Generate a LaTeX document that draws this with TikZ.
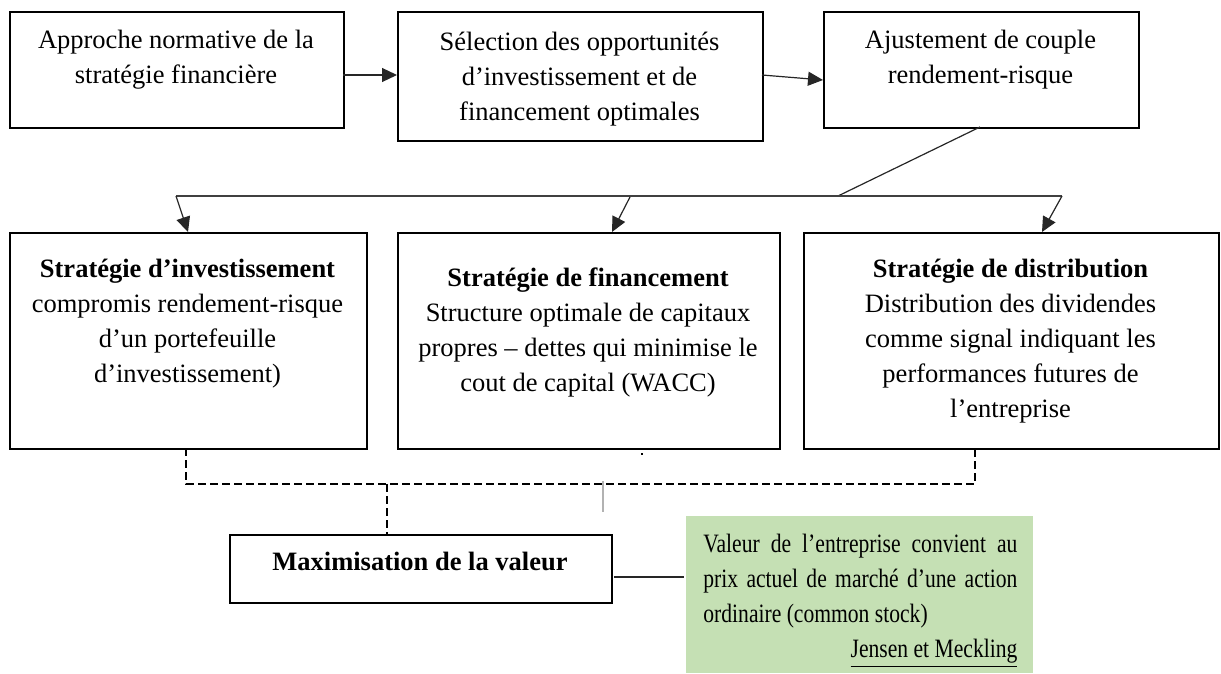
\documentclass[tikz,border=0pt]{standalone}
\usepackage{fontspec}
\setmainfont{Liberation Serif}
\newfontfamily\condfont{Liberation Serif}[FakeStretch=0.815]
\usetikzlibrary{arrows.meta}
\definecolor{greenbg}{HTML}{C5E0B4}
\tikzset{
  box/.style={draw=black, line width=1pt, inner sep=0pt, anchor=north west},
  txt/.style={inner sep=0pt, anchor=north, align=center, font=\fontsize{13.25}{17.5}\selectfont},
  conn/.style={draw=black!85, line width=0.6pt},
  arr/.style={conn, -{Triangle[length=7.5pt,width=7pt]}},
  dashline/.style={draw=black, line width=0.7pt, dash pattern=on 4pt off 2pt}
}
\begin{document}
\begin{tikzpicture}[x=0.5pt,y=-0.5pt]
\useasboundingbox (0,0) rectangle (1221,674);
% top row boxes
\node[box, minimum width=167pt, minimum height=58pt] (b1) at (9,11) {};
\node[box, minimum width=182.5pt, minimum height=64.5pt] (b2) at (397,11) {};
\node[box, minimum width=157.5pt, minimum height=58pt] (b3) at (823,11) {};
% lower row boxes
\node[box, minimum width=178.5pt, minimum height=108pt] (b4) at (9,232) {};
\node[box, minimum width=191pt, minimum height=108pt] (b5) at (397,232) {};
\node[box, minimum width=207.5pt, minimum height=108pt] (b6) at (803,232) {};
% bottom
\node[box, minimum width=191pt, minimum height=34pt] (bm) at (229,534) {};
\node[fill=greenbg, inner sep=0pt, anchor=north west, minimum width=173.5pt, minimum height=78.5pt] (bg) at (686,516) {};

% texts
\node[txt] (t1) at (176,24) {\strut Approche normative de la\\stratégie financière};
\node[txt] (t2) at (579.5,26) {\strut Sélection des opportunités\\d’investissement et de\\financement optimales};
\node[txt] (t3) at (980.5,24) {\strut Ajustement de couple\\rendement-risque};
\node[txt] (t4) at (187.5,253) {\strut\textbf{Stratégie d’investissement}\\compromis rendement-risque\\d’un portefeuille\\d’investissement)};
\node[txt] (t5) at (588,262) {\strut\textbf{Stratégie de financement}\\Structure optimale de capitaux\\propres – dettes qui minimise le\\cout de capital (WACC)};
\node[txt] (t6) at (1010.5,253) {\strut\textbf{Stratégie de distribution}\\Distribution des dividendes\\comme signal indiquant les\\performances futures de\\l’entreprise};
\node[txt] (tm) at (420,546) {\strut\textbf{Maximisation de la valeur}};
\node[txt, anchor=north west, align=left, font=\condfont\fontsize{13.25}{17.5}\selectfont] (tg) at (703,528) {\strut\makebox[157pt][s]{Valeur de l’entreprise convient au}\\\makebox[157pt][s]{prix actuel de marché d’une action}\\ordinaire (common stock)\\\makebox[157pt][r]{\underline{Jensen et Meckling}}};

% connector coordinates
\coordinate (a1s) at (343,75);
\coordinate (a1e) at (397,75);
\coordinate (a2s) at (762,75);
\coordinate (a2e) at (823,80);
\coordinate (s3) at (980,127);
\coordinate (cj) at (838,196);
\coordinate (c1) at (176,196);
\coordinate (c2) at (630,197);
\coordinate (c3) at (1062,196);
\coordinate (e4) at (188,232);
\coordinate (e5) at (612,232);
\coordinate (e6) at (1042,232);
\coordinate (d4) at (186,448);
\coordinate (d4b) at (186,484);
\coordinate (d6) at (975,448);
\coordinate (d6b) at (975,484);
\coordinate (dm) at (387,484);
\coordinate (dmb) at (387,534);
\coordinate (gl1) at (603,481);
\coordinate (gl2) at (603,512);
\coordinate (mg1) at (614,577);
\coordinate (mg2) at (684,577);

\draw[arr] (a1s) -- (a1e);
\draw[arr] (a2s) -- (a2e);
\draw[conn] (s3) -- (cj);
\draw[conn, line width=0.8pt, draw=black!75] (c1) -- (c3);
\draw[arr] (c1) -- (e4);
\draw[arr] (c2) -- (e5);
\draw[arr] (c3) -- (e6);
\draw[dashline] (d4) -- (d4b) -- (d6b) -- (d6);
\draw[dashline] (dm) -- (dmb);
\draw[draw=black!30, line width=0.8pt] (gl1) -- (gl2);
\draw[conn] (mg1) -- (mg2);
\fill (641,453) rectangle (643,455);
\end{tikzpicture}
\end{document}
